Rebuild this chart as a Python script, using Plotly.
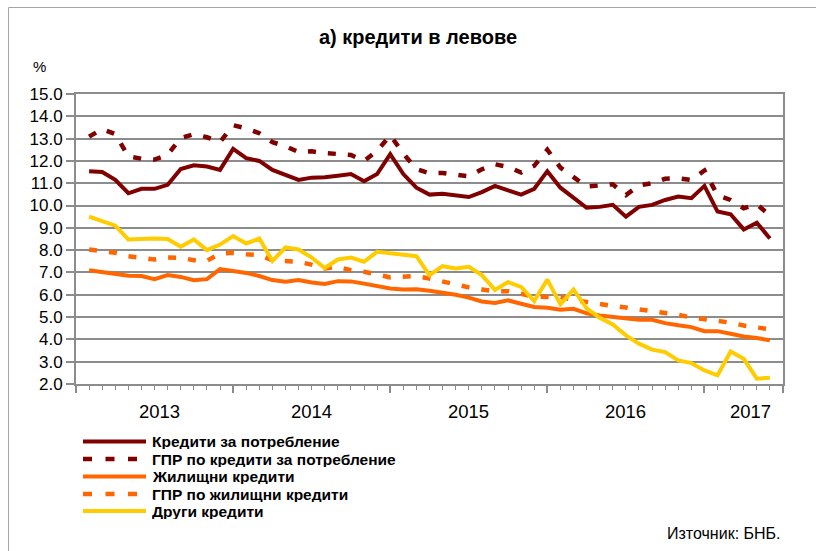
import plotly.graph_objects as go

# ---------------- data ----------------
year_labels = ["2013", "2014", "2015", "2016", "2017"]

series_names = [
    "Кредити за потребление",
    "ГПР по кредити за потребление",
    "Жилищни кредити",
    "ГПР по жилищни кредити",
    "Други кредити",
]

consumer = [11.54, 11.50, 11.15, 10.55, 10.75, 10.75, 10.93, 11.64, 11.80, 11.75, 11.60, 12.54,
            12.12, 12.00, 11.60, 11.37, 11.15, 11.25, 11.27, 11.34, 11.41, 11.09, 11.41, 12.30,
            11.41, 10.80, 10.49, 10.53, 10.46, 10.38, 10.60, 10.88, 10.68, 10.49, 10.75, 11.54,
            10.80, 10.37, 9.90, 9.94, 10.03, 9.50, 9.94, 10.03, 10.25, 10.40, 10.33, 10.88,
            9.73, 9.61, 8.93, 9.23, 8.52]

consumer_apr = [13.09, 13.43, 13.20, 12.20, 12.10, 12.06, 12.27, 13.03, 13.20, 13.06, 12.84, 13.60,
                13.46, 13.24, 12.84, 12.66, 12.40, 12.43, 12.35, 12.30, 12.27, 12.00, 12.45, 13.15,
                12.33, 11.63, 11.45, 11.46, 11.39, 11.31, 11.63, 11.85, 11.73, 11.48, 11.78, 12.50,
                11.70, 11.28, 10.85, 10.90, 10.95, 10.47, 10.90, 11.00, 11.20, 11.22, 11.15, 11.57,
                10.46, 10.25, 9.88, 10.06, 9.55]

housing = [7.10, 7.03, 6.96, 6.85, 6.84, 6.70, 6.88, 6.80, 6.65, 6.70, 7.15, 7.06,
           6.98, 6.84, 6.66, 6.58, 6.66, 6.55, 6.48, 6.61, 6.60, 6.50, 6.39, 6.28,
           6.24, 6.25, 6.18, 6.10, 6.00, 5.87, 5.70, 5.63, 5.75, 5.60, 5.45, 5.42,
           5.33, 5.37, 5.17, 5.07, 5.00, 4.93, 4.88, 4.88, 4.73, 4.63, 4.55, 4.37,
           4.37, 4.25, 4.13, 4.06, 3.96]

housing_apr = [8.03, 7.97, 7.88, 7.73, 7.63, 7.58, 7.67, 7.66, 7.55, 7.52, 7.85, 7.88,
               7.82, 7.78, 7.55, 7.50, 7.48, 7.35, 7.18, 7.25, 7.10, 7.03, 6.93, 6.78,
               6.81, 6.84, 6.73, 6.58, 6.43, 6.33, 6.24, 6.15, 6.16, 6.04, 5.92, 5.90,
               5.90, 5.77, 5.67, 5.57, 5.50, 5.43, 5.35, 5.30, 5.22, 5.10, 4.98, 4.92,
               4.85, 4.75, 4.62, 4.52, 4.45]

other = [9.50, 9.32, 9.10, 8.48, 8.52, 8.52, 8.50, 8.15, 8.48, 8.00, 8.25, 8.63,
         8.30, 8.52, 7.52, 8.12, 8.03, 7.67, 7.20, 7.58, 7.67, 7.48, 7.93, 7.85,
         7.78, 7.73, 6.88, 7.28, 7.18, 7.25, 6.88, 6.22, 6.57, 6.35, 5.72, 6.68,
         5.57, 6.24, 5.39, 4.97, 4.67, 4.18, 3.81, 3.54, 3.43, 3.06, 2.94, 2.61,
         2.39, 3.46, 3.13, 2.24, 2.28]

# ---------------- styling ----------------
DARK_RED = "#800000"
ORANGE = "#FF6600"
YELLOW = "#FFCC00"
GRID = "#8c8c8c"
DASH = "8px,12px"
LEG_DASH = "9px,13.5px"
FONT = "Liberation Sans, Arial, sans-serif"

styles = [
    dict(color=DARK_RED, width=4, dash="solid"),
    dict(color=DARK_RED, width=4.5, dash=DASH),
    dict(color=ORANGE, width=4, dash="solid"),
    dict(color=ORANGE, width=4.5, dash=DASH),
    dict(color=YELLOW, width=4, dash="solid"),
]
all_series = [consumer, consumer_apr, housing, housing_apr, other]

W, H = 816, 551
ML, MR, MT, MB = 76, 33, 94, 167
PW, PH = W - ML - MR, H - MT - MB


def px2x(px):
    return (px - ML) / PW


def py2y(py):
    return (H - MB - py) / PH


months = list(range(1, len(consumer) + 1))

fig = go.Figure()
for name, vals, st in zip(series_names, all_series, styles):
    fig.add_trace(go.Scatter(x=months, y=vals, mode="lines", name=name,
                             line=st, showlegend=False))

n_months = len(consumer) + 1
fig.update_layout(
    width=W, height=H,
    margin=dict(l=ML, r=MR, t=MT, b=MB, pad=0),
    paper_bgcolor="white", plot_bgcolor="white",
    font=dict(family=FONT, color="black"),
    title=dict(text="<b>а) кредити в левове</b>", x=418 / W, xref="container",
               xanchor="center", y=1 - 37 / H, yanchor="middle",
               font=dict(family=FONT, size=20, color="black")),
    xaxis=dict(range=[0, n_months], showgrid=False, zeroline=False,
               showline=True, linecolor=GRID, linewidth=2, mirror=True,
               tickmode="array", tickvals=[0, 12, 24, 36, 48, n_months],
               ticks="outside", ticklen=7, tickwidth=1.5, tickcolor=GRID,
               showticklabels=False,
               minor=dict(tickmode="linear", tick0=0, dtick=1, ticks="outside",
                          ticklen=4, tickwidth=1, tickcolor=GRID, showgrid=False)),
    yaxis=dict(range=[2, 15], tick0=2, dtick=1, tickformat=".1f",
               showgrid=True, gridcolor=GRID, gridwidth=2, zeroline=False,
               showline=True, linecolor=GRID, linewidth=2, mirror=True,
               ticks="outside", ticklen=8, tickwidth=1.5, tickcolor=GRID,
               tickfont=dict(family=FONT, size=17, color="black")),
)

# year labels centred under each year block
year_pos = [6.4, 18, 30, 42, 51.5]
for lab, xp in zip(year_labels, year_pos):
    fig.add_annotation(x=xp, xref="x", y=py2y(411), yref="paper", text=lab,
                       showarrow=False, xanchor="center", yanchor="middle",
                       font=dict(family=FONT, size=18.5, color="black"))

# "%" unit label
fig.add_annotation(x=px2x(39), xref="paper", y=py2y(67), yref="paper", text="%",
                   showarrow=False, xanchor="center", yanchor="middle",
                   font=dict(family=FONT, size=15, color="black"))

# legend (drawn below the chart, matching the reference layout)
leg_rows = [441.5, 459, 476.5, 494, 511]
for name, st, ry in zip(series_names, styles, leg_rows):
    dash = LEG_DASH if st["dash"] != "solid" else "solid"
    fig.add_shape(type="line", xref="paper", yref="paper",
                  x0=px2x(83), x1=px2x(146) if dash == "solid" else px2x(138),
                  y0=py2y(ry), y1=py2y(ry),
                  line=dict(color=st["color"], width=st["width"], dash=dash))
    fig.add_annotation(x=px2x(151), xref="paper", y=py2y(ry), yref="paper",
                       text="<b>" + name + "</b>", showarrow=False,
                       xanchor="left", yanchor="middle", height=15, borderpad=0,
                       font=dict(family=FONT, size=15.5, color="black"))

# source
fig.add_annotation(x=px2x(783), xref="paper", y=py2y(533), yref="paper",
                   text="Източник: БНБ.", showarrow=False,
                   xanchor="right", yanchor="middle",
                   font=dict(family=FONT, size=16, color="black"))

# outer frame (left and top edges visible)
fig.add_shape(type="line", xref="paper", yref="paper",
              x0=px2x(8.5), x1=px2x(8.5), y0=py2y(7.5), y1=py2y(560),
              line=dict(color="#a6a6a6", width=1))
fig.add_shape(type="line", xref="paper", yref="paper",
              x0=px2x(8.5), x1=px2x(830), y0=py2y(7.5), y1=py2y(7.5),
              line=dict(color="#a6a6a6", width=1))

fig.write_html("out.html", config={"displayModeBar": False},
               post_script="document.body.style.margin='0';")
